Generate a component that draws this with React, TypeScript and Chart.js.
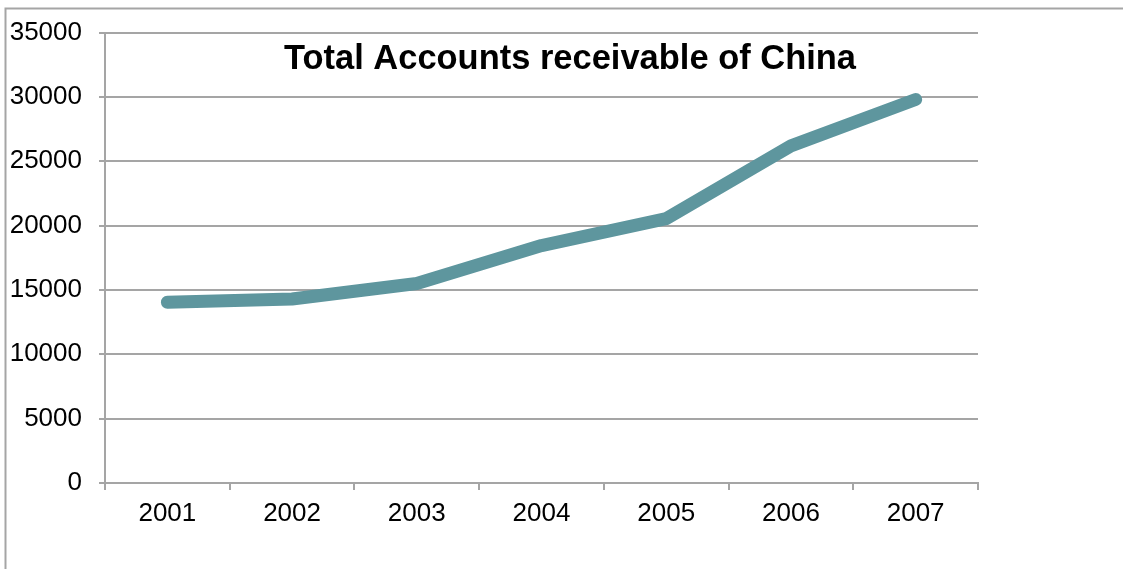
import { useEffect, useRef } from "react";
import { Chart, registerables } from "chart.js";

Chart.register(...registerables);

const years = ["2001", "2002", "2003", "2004", "2005", "2006", "2007"];
const receivables = [14050, 14300, 15500, 18450, 20550, 26200, 29800];
const yMin = 0;
const yMax = 35000;
const yStep = 5000;
const titleText = "Total Accounts receivable of China";

const GRID = "#a5a5a5";
const LINE = "#5e969e";

const framePlugin = {
  id: "frame",
  beforeDraw(chart: any) {
    const ctx = chart.ctx;
    ctx.save();
    ctx.strokeStyle = GRID;
    ctx.lineWidth = 2;
    ctx.beginPath();
    ctx.moveTo(5.5, chart.height);
    ctx.lineTo(5.5, 8.5);
    ctx.lineTo(chart.width, 8.5);
    ctx.stroke();
    ctx.restore();
  },
};

const titlePlugin = {
  id: "insideTitle",
  afterDraw(chart: any) {
    const ctx = chart.ctx;
    ctx.save();
    ctx.font = "bold 35px 'Liberation Sans', Arial, sans-serif";
    ctx.fillStyle = "#000000";
    ctx.textBaseline = "alphabetic";
    ctx.textAlign = "center";
    const w = ctx.measureText(titleText).width;
    const sx = 572 / w;
    ctx.translate(570, 69);
    ctx.scale(sx, 1);
    ctx.fillText(titleText, 0, 0);
    ctx.restore();
  },
};

export default function App() {
  const ref = useRef<HTMLCanvasElement | null>(null);

  useEffect(() => {
    document.body.style.margin = "0";
    const canvas = ref.current;
    if (!canvas) return;
    const chart = new Chart(canvas, {
      type: "line",
      data: {
        labels: years,
        datasets: [
          {
            data: receivables,
            borderColor: LINE,
            backgroundColor: LINE,
            borderWidth: 13,
            borderCapStyle: "round",
            borderJoinStyle: "round",
            pointRadius: 0,
            pointHoverRadius: 0,
            tension: 0,
            fill: false,
          },
        ],
      },
      options: {
        responsive: false,
        animation: false,
        events: [],
        layout: { padding: { top: 31, right: 145, left: 0, bottom: 0 } },
        plugins: {
          legend: { display: false },
          title: { display: false },
          tooltip: { enabled: false },
        },
        scales: {
          x: {
            offset: true,
            afterFit(scale: any) {
              scale.height = 86;
            },
            grid: {
              display: true,
              offset: true,
              drawOnChartArea: false,
              drawTicks: true,
              tickLength: 7,
              color: GRID,
              lineWidth: 2,
            },
            border: { display: true, color: GRID, width: 2 },
            ticks: {
              color: "#000000",
              padding: 8,
              maxRotation: 0,
              font: { family: "'Liberation Sans', Arial, sans-serif", size: 26 },
            },
          },
          y: {
            min: yMin,
            max: yMax,
            afterFit(scale: any) {
              scale.width = 105;
            },
            grid: {
              color: GRID,
              lineWidth: 2,
              drawTicks: true,
              tickLength: 6,
            },
            border: { display: true, color: GRID, width: 2 },
            ticks: {
              stepSize: yStep,
              color: "#000000",
              padding: 17,
              callback: (v: any) => String(v),
              font: { family: "'Liberation Sans', Arial, sans-serif", size: 26 },
            },
          },
        },
      },
      plugins: [framePlugin, titlePlugin],
    });
    return () => chart.destroy();
  }, []);

  return (
    <canvas
      ref={ref}
      width={1123}
      height={569}
      style={{ display: "block", width: "1123px", height: "569px" }}
    />
  );
}
